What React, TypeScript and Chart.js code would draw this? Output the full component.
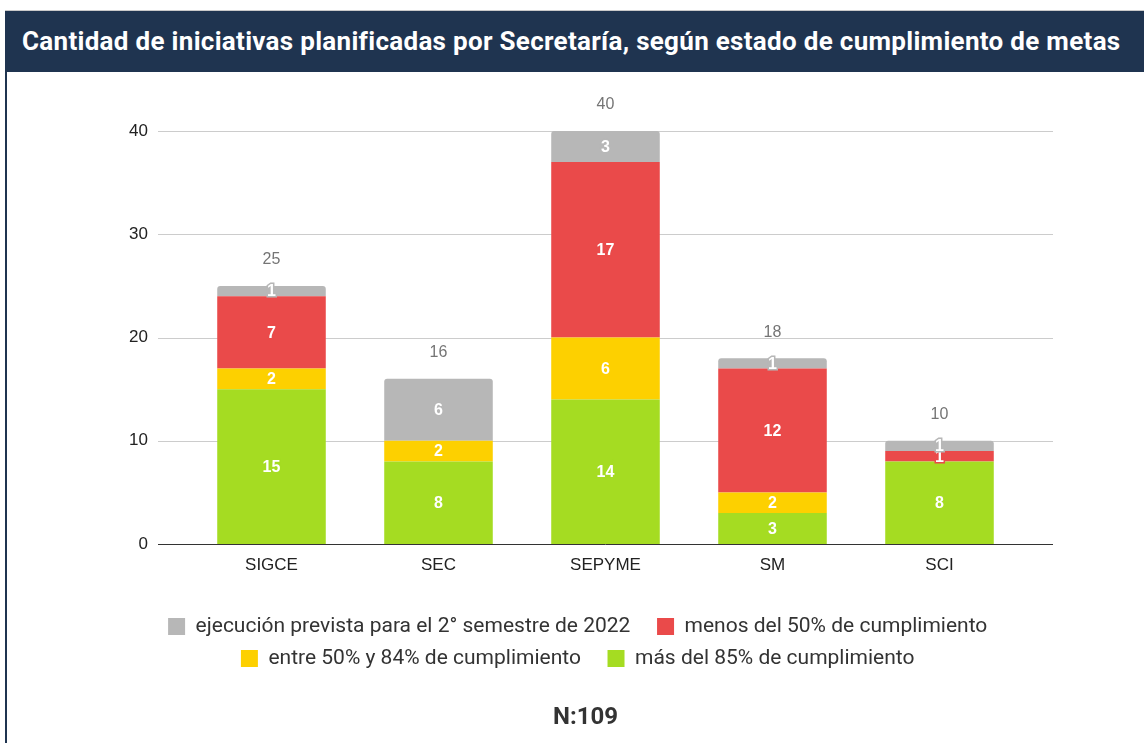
import React, { useEffect, useRef } from "react";
import { Chart, registerables } from "chart.js";

Chart.register(...registerables);

const categories = ["SIGCE", "SEC", "SEPYME", "SM", "SCI"];
const masDel85 = [15, 8, 14, 3, 8];
const entre50y84 = [2, 2, 6, 2, 0];
const menosDel50 = [7, 0, 17, 12, 1];
const ejecucionPrevista = [1, 6, 3, 1, 1];
const yTicks = [0, 10, 20, 30, 40];

const seriesLabels = [
  "más del 85% de cumplimiento",
  "entre 50% y 84% de cumplimiento",
  "menos del 50% de cumplimiento",
  "ejecución prevista para el 2° semestre de 2022",
];
const seriesColors = ["#a5dc22", "#fdd000", "#ea4a4a", "#b7b7b7"];

const gridPlugin = {
  id: "extGrid",
  beforeDatasetsDraw(chart: any) {
    const { ctx, chartArea, scales } = chart;
    const y = scales.y;
    ctx.save();
    yTicks.forEach((t) => {
      const py = Math.round(y.getPixelForValue(t)) + 0.5;
      ctx.beginPath();
      ctx.strokeStyle = t === 0 ? "#333333" : "#cccccc";
      ctx.lineWidth = 1;
      ctx.moveTo(chartArea.left - 30, py);
      ctx.lineTo(chartArea.right + 30, py);
      ctx.stroke();
    });
    ctx.restore();
  },
};

const labelPlugin = {
  id: "segLabels",
  afterDatasetsDraw(chart: any) {
    const { ctx } = chart;
    ctx.save();
    ctx.textAlign = "center";
    ctx.textBaseline = "middle";
    ctx.font = "bold 16px 'Liberation Sans', Arial, sans-serif";
    chart.data.datasets.forEach((ds: any, di: number) => {
      const meta = chart.getDatasetMeta(di);
      meta.data.forEach((bar: any, i: number) => {
        const v = ds.data[i];
        if (!v) return;
        const cy = (bar.y + bar.base) / 2;
        ctx.lineWidth = 3;
        ctx.strokeStyle = ds.backgroundColor;
        ctx.strokeText(String(v), bar.x, cy + 1);
        ctx.fillStyle = "#ffffff";
        ctx.fillText(String(v), bar.x, cy + 1);
      });
    });
    const y = chart.scales.y;
    const topMeta = chart.getDatasetMeta(chart.data.datasets.length - 1);
    ctx.font = "16px 'Liberation Sans', Arial, sans-serif";
    ctx.fillStyle = "#757575";
    categories.forEach((_, i) => {
      const total =
        masDel85[i] + entre50y84[i] + menosDel50[i] + ejecucionPrevista[i];
      const x = topMeta.data[i].x;
      ctx.fillText(String(total), x, y.getPixelForValue(total) - 26);
    });
    ctx.restore();
  },
};

export default function App() {
  const ref = useRef<HTMLCanvasElement | null>(null);
  useEffect(() => {
    if (!ref.current) return;
    const data = [masDel85, entre50y84, menosDel50, ejecucionPrevista];
    const chart = new Chart(ref.current, {
      type: "bar",
      data: {
        labels: categories,
        datasets: data.map((d, i) => ({
          label: seriesLabels[i],
          data: d,
          backgroundColor: seriesColors[i],
          barPercentage: 0.65,
          categoryPercentage: 1,
          borderRadius:
            i === 3
              ? { topLeft: 3, topRight: 3, bottomLeft: 0, bottomRight: 0 }
              : 0,
          borderSkipped: false,
        })),
      },
      options: {
        responsive: false,
        animation: false,
        devicePixelRatio: 1,
        layout: { padding: { top: 59, bottom: 64, left: 20, right: 0 } },
        plugins: {
          title: { display: false },
          tooltip: { enabled: false },
          legend: {
            position: "bottom",
            labels: {
              boxWidth: 17,
              boxHeight: 17,
              padding: 11,
              color: "#333333",
              font: { family: "Roboto", size: 21 },
              sort: (a: any, b: any) => b.datasetIndex - a.datasetIndex,
              generateLabels: (chart: any) =>
                chart.data.datasets.map((ds: any, i: number) => ({
                  text: ds.label + "   ",
                  fillStyle: ds.backgroundColor,
                  strokeStyle: ds.backgroundColor,
                  lineWidth: 0,
                  hidden: false,
                  datasetIndex: i,
                  fontColor: "#333333",
                })),
            },
          },
        },
        scales: {
          x: {
            stacked: true,
            grid: { display: false },
            border: { display: false },
            ticks: {
              color: "#222222",
              padding: 3,
              font: { family: "'Liberation Sans', Arial, sans-serif", size: 17 },
            },
            afterFit: (s: any) => {
              s.height = 61;
            },
          },
          y: {
            stacked: true,
            min: 0,
            max: 40,
            grid: { display: false },
            border: { display: false },
            ticks: {
              stepSize: 10,
              color: "#222222",
              padding: 32,
              font: { family: "'Liberation Sans', Arial, sans-serif", size: 17 },
            },
            afterFit: (s: any) => {
              s.width = 161;
            },
          },
          yRight: {
            position: "right",
            display: true,
            grid: { display: false },
            border: { display: false },
            ticks: { display: false },
            afterFit: (s: any) => {
              s.width = 121;
            },
          },
        },
      },
      plugins: [gridPlugin, labelPlugin],
    });
    return () => chart.destroy();
  }, []);

  return (
    <div
      style={{
        position: "fixed",
        left: 0,
        top: 0,
        width: 1144,
        height: 743,
        background: "#ffffff",
        overflow: "hidden",
      }}
    >
      <div
        style={{
          position: "absolute",
          left: 5,
          top: 10,
          width: 1139,
          height: 1,
          background: "#c9c9c9",
        }}
      />
      <div
        style={{
          position: "absolute",
          left: 5,
          top: 11,
          width: 1139,
          height: 61,
          background: "#1f3450",
          color: "#ffffff",
          fontFamily: "Roboto, sans-serif",
          fontWeight: 700,
          fontSize: 26,
          letterSpacing: 0.3,
          lineHeight: "61px",
          paddingLeft: 17,
          boxSizing: "border-box",
          whiteSpace: "nowrap",
        }}
      >
        Cantidad de iniciativas planificadas por Secretaría, según estado de
        cumplimiento de metas
      </div>
      <div
        style={{
          position: "absolute",
          left: 5,
          top: 72,
          width: 2,
          height: 671,
          background: "#1f3450",
        }}
      />
      <canvas
        ref={ref}
        width={1137}
        height={671}
        style={{ position: "absolute", left: 7, top: 72, width: 1137, height: 671 }}
      />
      <div
        style={{
          position: "absolute",
          left: 27,
          width: 1117,
          top: 701,
          textAlign: "center",
          fontFamily: "Roboto, sans-serif",
          fontWeight: 700,
          fontSize: 24,
          color: "#333333",
          lineHeight: "30px",
        }}
      >
        N:109
      </div>
    </div>
  );
}
